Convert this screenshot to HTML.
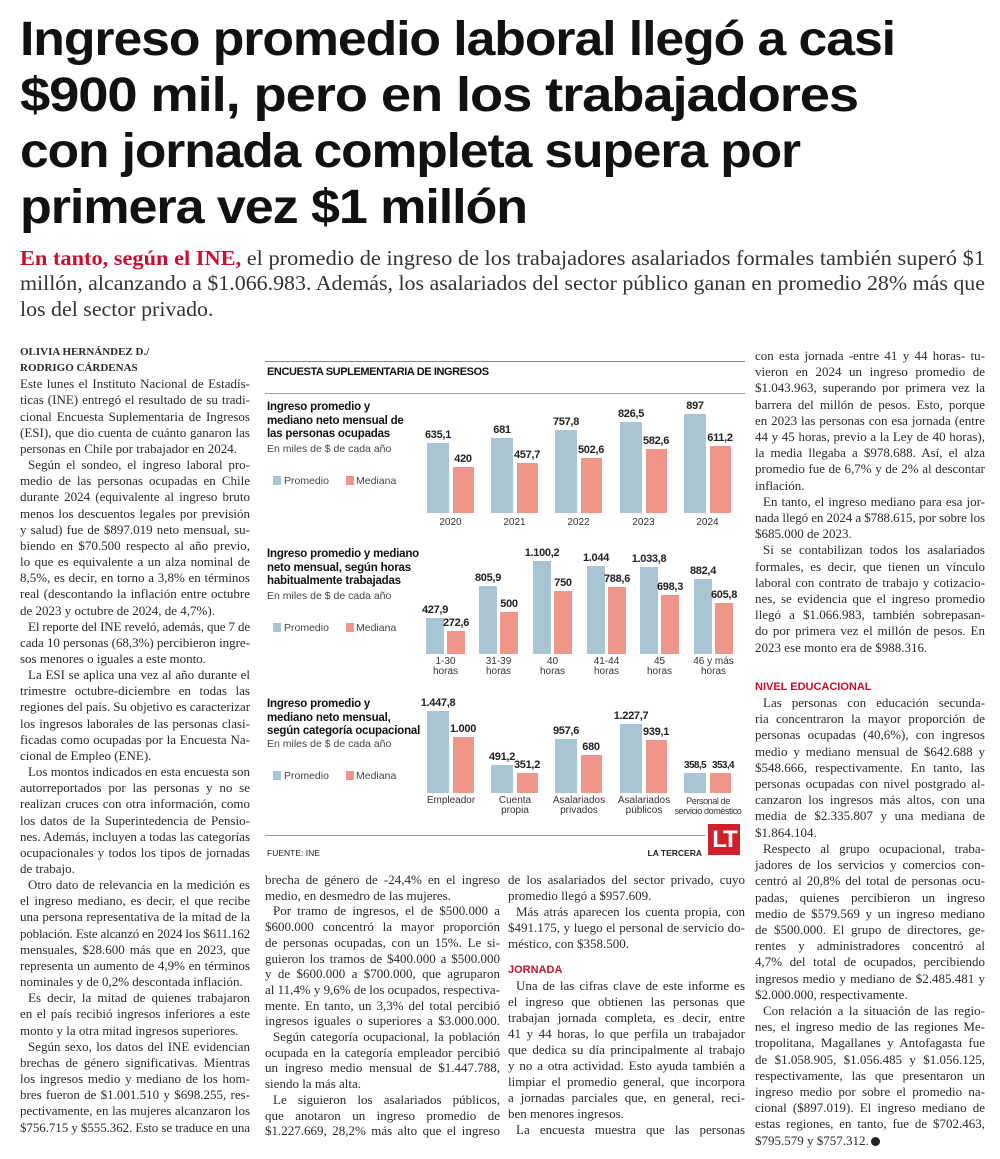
<!DOCTYPE html>
<html><head><meta charset="utf-8">
<style>
*{margin:0;padding:0;box-sizing:border-box}
body{width:1000px;height:1159px;background:#fff;position:relative;overflow:hidden;color:#222}
.hl{position:absolute;left:20px;font-family:"Liberation Sans",sans-serif;font-weight:bold;font-size:48px;line-height:56px;white-space:nowrap;color:#111;letter-spacing:-1px}
.hl span,.sh span{display:inline-block;transform-origin:0 50%}
.sh{position:absolute;left:20px;font-family:"Liberation Serif",serif;font-size:21px;line-height:25px;white-space:nowrap;color:#333}
.sh b{color:#c8102e}
.col{position:absolute;font-family:"Liberation Serif",serif;font-size:13px;color:#2a2a2a}
.col div{white-space:nowrap;overflow:visible}
.col .i{padding-left:8px}
.col .by{font-weight:bold;font-size:11px}
.col .hd{font-family:"Liberation Sans",sans-serif;font-weight:bold;font-size:11px;color:#c8102e}
.c{position:absolute;font-family:"Liberation Sans",sans-serif}
.b{position:absolute;background:#a9c4d2}
.r{position:absolute;background:#ef9589}
.v{position:absolute;font-family:"Liberation Sans",sans-serif;font-size:11px;font-weight:bold;text-align:center;color:#222;height:13px;line-height:13px;letter-spacing:-0.3px}
.t{position:absolute;font-family:"Liberation Sans",sans-serif;font-size:10px;text-align:center;color:#333;line-height:10px}
.ct{position:absolute;left:267px;font-family:"Liberation Sans",sans-serif;font-weight:bold;font-size:11.5px;line-height:13.6px;color:#111;letter-spacing:-0.2px}
.cs{position:absolute;left:267px;font-family:"Liberation Sans",sans-serif;font-size:10.5px;color:#444}
.lg{position:absolute;font-family:"Liberation Sans",sans-serif;font-size:10.5px;color:#444;line-height:10px}
.sq{position:absolute;width:8px;height:9px}
</style></head><body>

<div class="hl" style="top:12px" data-w="875"><span>Ingreso promedio laboral llegó a casi</span></div>
<div class="hl" style="top:68px" data-w="838"><span>$900 mil, pero en los trabajadores</span></div>
<div class="hl" style="top:124px" data-w="780"><span>con jornada completa supera por</span></div>
<div class="hl" style="top:180px" data-w="507"><span>primera vez $1 millón</span></div>

<div class="sh" style="top:246px" data-w="965"><span><b>En tanto, según el INE,</b> el promedio de ingreso de los trabajadores asalariados formales también superó $1</span></div>
<div class="sh" style="top:271px" data-w="965"><span>millón, alcanzando a $1.066.983. Además, los asalariados del sector público ganan en promedio 28% más que</span></div>
<div class="sh" style="top:297px" data-w="190"><span>los del sector privado.</span></div>

<!-- Column 1 -->
<div class="col" style="left:20px;top:344px;width:230px;line-height:16.15px">
<div class="by e">OLIVIA HERNÁNDEZ D./</div>
<div class="by e">RODRIGO CÁRDENAS</div>
<div class="j">Este lunes el Instituto Nacional de Estadís-</div>
<div class="j">ticas (INE) entregó el resultado de su tradi-</div>
<div class="j">cional Encuesta Suplementaria de Ingresos</div>
<div class="j">(ESI), que dio cuenta de cuánto ganaron las</div>
<div class="e">personas en Chile por trabajador en 2024.</div>
<div class="j i">Según el sondeo, el ingreso laboral pro-</div>
<div class="j">medio de las personas ocupadas en Chile</div>
<div class="j">durante 2024 (equivalente al ingreso bruto</div>
<div class="j">menos los descuentos legales por previsión</div>
<div class="j">y salud) fue de $897.019 neto mensual, su-</div>
<div class="j">biendo en $70.500 respecto al año previo,</div>
<div class="j">lo que es equivalente a un alza nominal de</div>
<div class="j">8,5%, es decir, en torno a 3,8% en términos</div>
<div class="j">real (descontando la inflación entre octubre</div>
<div class="e">de 2023 y octubre de 2024, de 4,7%).</div>
<div class="j i">El reporte del INE reveló, además, que 7 de</div>
<div class="j">cada 10 personas (68,3%) percibieron ingre-</div>
<div class="e">sos menores o iguales a este monto.</div>
<div class="j i">La ESI se aplica una vez al año durante el</div>
<div class="j">trimestre octubre-diciembre en todas las</div>
<div class="j">regiones del país. Su objetivo es caracterizar</div>
<div class="j">los ingresos laborales de las personas clasi-</div>
<div class="j">ficadas como ocupadas por la Encuesta Na-</div>
<div class="e">cional de Empleo (ENE).</div>
<div class="j i">Los montos indicados en esta encuesta son</div>
<div class="j">autorreportados por las personas y no se</div>
<div class="j">realizan cruces con otra información, como</div>
<div class="j">los datos de la Superintedencia de Pensio-</div>
<div class="j">nes. Además, incluyen a todas las categorías</div>
<div class="j">ocupacionales y todos los tipos de jornadas</div>
<div class="e">de trabajo.</div>
<div class="j i">Otro dato de relevancia en la medición es</div>
<div class="j">el ingreso mediano, es decir, el que recibe</div>
<div class="j">una persona representativa de la mitad de la</div>
<div class="j">población. Este alcanzó en 2024 los $611.162</div>
<div class="j">mensuales, $28.600 más que en 2023, que</div>
<div class="j">representa un aumento de 4,9% en términos</div>
<div class="e">nominales y de 0,2% descontada inflación.</div>
<div class="j i">Es decir, la mitad de quienes trabajaron</div>
<div class="j">en el país recibió ingresos inferiores a este</div>
<div class="e">monto y la otra mitad ingresos superiores.</div>
<div class="j i">Según sexo, los datos del INE evidencian</div>
<div class="j">brechas de género significativas. Mientras</div>
<div class="j">los ingresos medio y mediano de los hom-</div>
<div class="j">bres fueron de $1.001.510 y $698.255, res-</div>
<div class="j">pectivamente, en las mujeres alcanzaron los</div>
<div class="j">$756.715 y $555.362. Esto se traduce en una</div>
</div>

<!-- Column 2 -->
<div class="col" style="left:265px;top:872px;width:235px;line-height:15.7px">
<div class="j">brecha de género de -24,4% en el ingreso</div>
<div class="e">medio, en desmedro de las mujeres.</div>
<div class="j i">Por tramo de ingresos, el de $500.000 a</div>
<div class="j">$600.000 concentró la mayor proporción</div>
<div class="j">de personas ocupadas, con un 15%. Le si-</div>
<div class="j">guieron los tramos de $400.000 a $500.000</div>
<div class="j">y de $600.000 a $700.000, que agruparon</div>
<div class="j">al 11,4% y 9,6% de los ocupados, respectiva-</div>
<div class="j">mente. En tanto, un 3,3% del total percibió</div>
<div class="j">ingresos iguales o superiores a $3.000.000.</div>
<div class="j i">Según categoría ocupacional, la población</div>
<div class="j">ocupada en la categoría empleador percibió</div>
<div class="j">un ingreso medio mensual de $1.447.788,</div>
<div class="e">siendo la más alta.</div>
<div class="j i">Le siguieron los asalariados públicos,</div>
<div class="j">que anotaron un ingreso promedio de</div>
<div class="j">$1.227.669, 28,2% más alto que el ingreso</div>
</div>

<!-- Column 3 -->
<div class="col" style="left:508px;top:872px;width:237px;line-height:15.9px">
<div class="j">de los asalariados del sector privado, cuyo</div>
<div class="e">promedio llegó a $957.609.</div>
<div class="j i">Más atrás aparecen los cuenta propia, con</div>
<div class="j">$491.175, y luego el personal de servicio do-</div>
<div class="e">méstico, con $358.500.</div>
<div style="height:11px"></div>
<div class="hd">JORNADA</div>
<div class="j i">Una de las cifras clave de este informe es</div>
<div class="j">el ingreso que obtienen las personas que</div>
<div class="j">trabajan jornada completa, es decir, entre</div>
<div class="j">41 y 44 horas, lo que perfila un trabajador</div>
<div class="j">que dedica su día principalmente al trabajo</div>
<div class="j">y no a otra actividad. Esto ayuda también a</div>
<div class="j">limpiar el promedio general, que incorpora</div>
<div class="j">a jornadas parciales que, en general, reci-</div>
<div class="e">ben menores ingresos.</div>
<div class="j i">La encuesta muestra que las personas</div>
</div>

<!-- Column 4 -->
<div class="col" style="left:755px;top:348px;width:230px;line-height:16.2px">
<div class="j">con esta jornada -entre 41 y 44 horas- tu-</div>
<div class="j">vieron en 2024 un ingreso promedio de</div>
<div class="j">$1.043.963, superando por primera vez la</div>
<div class="j">barrera del millón de pesos. Esto, porque</div>
<div class="j">en 2023 las personas con esa jornada (entre</div>
<div class="j">44 y 45 horas, previo a la Ley de 40 horas),</div>
<div class="j">la media llegaba a $978.688. Así, el alza</div>
<div class="j">promedio fue de 6,7% y de 2% al descontar</div>
<div class="e">inflación.</div>
<div class="j i">En tanto, el ingreso mediano para esa jor-</div>
<div class="j">nada llegó en 2024 a $788.615, por sobre los</div>
<div class="e">$685.000 de 2023.</div>
<div class="j i">Si se contabilizan todos los asalariados</div>
<div class="j">formales, es decir, que tienen un vínculo</div>
<div class="j">laboral con contrato de trabajo y cotizacio-</div>
<div class="j">nes, se evidencia que el ingreso promedio</div>
<div class="j">llegó a $1.066.983, también sobrepasan-</div>
<div class="j">do por primera vez el millón de pesos. En</div>
<div class="e">2023 ese monto era de $988.316.</div>
<div style="height:23px"></div>
<div class="hd">NIVEL EDUCACIONAL</div>
<div class="j i">Las personas con educación secunda-</div>
<div class="j">ria concentraron la mayor proporción de</div>
<div class="j">personas ocupadas (40,6%), con ingresos</div>
<div class="j">medio y mediano mensual de $642.688 y</div>
<div class="j">$548.666, respectivamente. En tanto, las</div>
<div class="j">personas ocupadas con nivel postgrado al-</div>
<div class="j">canzaron los ingresos más altos, con una</div>
<div class="j">media de $2.335.807 y una mediana de</div>
<div class="e">$1.864.104.</div>
<div class="j i">Respecto al grupo ocupacional, traba-</div>
<div class="j">jadores de los servicios y comercios con-</div>
<div class="j">centró al 20,8% del total de personas ocu-</div>
<div class="j">padas, quienes percibieron un ingreso</div>
<div class="j">medio de $579.569 y un ingreso mediano</div>
<div class="j">de $500.000. El grupo de directores, ge-</div>
<div class="j">rentes y administradores concentró al</div>
<div class="j">4,7% del total de ocupados, percibiendo</div>
<div class="j">ingresos medio y mediano de $2.485.481 y</div>
<div class="e">$2.000.000, respectivamente.</div>
<div class="j i">Con relación a la situación de las regio-</div>
<div class="j">nes, el ingreso medio de las regiones Me-</div>
<div class="j">tropolitana, Magallanes y Antofagasta fue</div>
<div class="j">de $1.058.905, $1.056.485 y $1.056.125,</div>
<div class="j">respectivamente, las que presentaron un</div>
<div class="j">ingreso medio por sobre el promedio na-</div>
<div class="j">cional ($897.019). El ingreso mediano de</div>
<div class="j">estas regiones, en tanto, fue de $702.463,</div>
<div class="e">$795.579 y $757.312.<span style="display:inline-block;width:9px;height:9px;border-radius:50%;background:#222;margin-left:2px;vertical-align:-1px"></span></div>
</div>

<!-- Chart box -->
<div style="position:absolute;left:265px;top:361px;width:480px;height:1px;background:#888"></div>
<div class="c" style="left:267px;top:366px;font-size:11px;font-weight:bold;letter-spacing:-0.4px;color:#111">ENCUESTA SUPLEMENTARIA DE INGRESOS</div>
<div style="position:absolute;left:265px;top:393px;width:480px;height:1px;background:#999"></div>

<!-- Chart 1 -->
<div class="ct" style="top:401px">Ingreso promedio y<br>mediano neto mensual de<br>las personas ocupadas</div>
<div class="cs" style="top:443px">En miles de $ de cada año</div>
<div class="sq" style="left:273px;top:476px;background:#a9c4d2"></div><div class="lg" style="left:284px;top:476px">Promedio</div>
<div class="sq" style="left:346px;top:476px;background:#ef9589"></div><div class="lg" style="left:356px;top:476px">Mediana</div>

<div class="b" style="left:427px;top:443px;width:22px;height:70px"></div><div class="v" style="left:418px;top:429px;width:40px">635,1</div>
<div class="r" style="left:453px;top:467px;width:21px;height:46px"></div><div class="v" style="left:443px;top:453px;width:40px">420</div>
<div class="b" style="left:491px;top:438px;width:22px;height:75px"></div><div class="v" style="left:482px;top:424px;width:40px">681</div>
<div class="r" style="left:517px;top:463px;width:21px;height:50px"></div><div class="v" style="left:507px;top:449px;width:40px">457,7</div>
<div class="b" style="left:555px;top:430px;width:22px;height:83px"></div><div class="v" style="left:546px;top:416px;width:40px">757,8</div>
<div class="r" style="left:581px;top:458px;width:21px;height:55px"></div><div class="v" style="left:571px;top:444px;width:40px">502,6</div>
<div class="b" style="left:620px;top:422px;width:22px;height:91px"></div><div class="v" style="left:611px;top:408px;width:40px">826,5</div>
<div class="r" style="left:646px;top:449px;width:21px;height:64px"></div><div class="v" style="left:636px;top:435px;width:40px">582,6</div>
<div class="b" style="left:684px;top:414px;width:22px;height:99px"></div><div class="v" style="left:675px;top:400px;width:40px">897</div>
<div class="r" style="left:710px;top:446px;width:21px;height:67px"></div><div class="v" style="left:700px;top:432px;width:40px">611,2</div>
<div class="t" style="left:427px;top:518px;width:47px">2020</div>
<div class="t" style="left:491px;top:518px;width:47px">2021</div>
<div class="t" style="left:555px;top:518px;width:47px">2022</div>
<div class="t" style="left:620px;top:518px;width:47px">2023</div>
<div class="t" style="left:684px;top:518px;width:47px">2024</div>

<!-- Chart 2 -->
<div class="ct" style="top:548px">Ingreso promedio y mediano<br>neto mensual, según horas<br>habitualmente trabajadas</div>
<div class="cs" style="top:590px">En miles de $ de cada año</div>
<div class="sq" style="left:273px;top:623px;background:#a9c4d2"></div><div class="lg" style="left:284px;top:623px">Promedio</div>
<div class="sq" style="left:346px;top:623px;background:#ef9589"></div><div class="lg" style="left:356px;top:623px">Mediana</div>

<div class="b" style="left:426px;top:618px;width:18px;height:36px"></div><div class="v" style="left:415px;top:604px;width:40px">427,9</div>
<div class="r" style="left:447px;top:631px;width:18px;height:23px"></div><div class="v" style="left:436px;top:617px;width:40px">272,6</div>
<div class="b" style="left:479px;top:586px;width:18px;height:68px"></div><div class="v" style="left:468px;top:572px;width:40px">805,9</div>
<div class="r" style="left:500px;top:612px;width:18px;height:42px"></div><div class="v" style="left:489px;top:598px;width:40px">500</div>
<div class="b" style="left:533px;top:561px;width:18px;height:93px"></div><div class="v" style="left:522px;top:547px;width:40px">1.100,2</div>
<div class="r" style="left:554px;top:591px;width:18px;height:63px"></div><div class="v" style="left:543px;top:577px;width:40px">750</div>
<div class="b" style="left:587px;top:566px;width:18px;height:88px"></div><div class="v" style="left:576px;top:552px;width:40px">1.044</div>
<div class="r" style="left:608px;top:587px;width:18px;height:67px"></div><div class="v" style="left:597px;top:573px;width:40px">788,6</div>
<div class="b" style="left:640px;top:567px;width:18px;height:87px"></div><div class="v" style="left:629px;top:553px;width:40px">1.033,8</div>
<div class="r" style="left:661px;top:595px;width:18px;height:59px"></div><div class="v" style="left:650px;top:581px;width:40px">698,3</div>
<div class="b" style="left:694px;top:579px;width:18px;height:75px"></div><div class="v" style="left:683px;top:565px;width:40px">882,4</div>
<div class="r" style="left:715px;top:603px;width:18px;height:51px"></div><div class="v" style="left:704px;top:589px;width:40px">605,8</div>
<div class="t" style="left:416px;top:657px;width:59px">1-30<br>horas</div>
<div class="t" style="left:469px;top:657px;width:59px">31-39<br>horas</div>
<div class="t" style="left:523px;top:657px;width:59px">40<br>horas</div>
<div class="t" style="left:577px;top:657px;width:59px">41-44<br>horas</div>
<div class="t" style="left:630px;top:657px;width:59px">45<br>horas</div>
<div class="t" style="left:684px;top:657px;width:59px">46 y más<br>horas</div>

<!-- Chart 3 -->
<div class="ct" style="top:698px">Ingreso promedio y<br>mediano neto mensual,<br>según categoría ocupacional</div>
<div class="cs" style="top:738px">En miles de $ de cada año</div>
<div class="sq" style="left:273px;top:771px;background:#a9c4d2"></div><div class="lg" style="left:284px;top:771px">Promedio</div>
<div class="sq" style="left:346px;top:771px;background:#ef9589"></div><div class="lg" style="left:356px;top:771px">Mediana</div>

<div class="b" style="left:427px;top:711px;width:22px;height:82px"></div><div class="v" style="left:413px;top:697px;width:50px">1.447,8</div>
<div class="r" style="left:453px;top:737px;width:21px;height:56px"></div><div class="v" style="left:443px;top:723px;width:40px">1.000</div>
<div class="b" style="left:491px;top:765px;width:22px;height:28px"></div><div class="v" style="left:482px;top:751px;width:40px">491,2</div>
<div class="r" style="left:517px;top:773px;width:21px;height:20px"></div><div class="v" style="left:507px;top:759px;width:40px">351,2</div>
<div class="b" style="left:555px;top:739px;width:22px;height:54px"></div><div class="v" style="left:546px;top:725px;width:40px">957,6</div>
<div class="r" style="left:581px;top:755px;width:21px;height:38px"></div><div class="v" style="left:571px;top:741px;width:40px">680</div>
<div class="b" style="left:620px;top:724px;width:22px;height:69px"></div><div class="v" style="left:606px;top:710px;width:50px">1.227,7</div>
<div class="r" style="left:646px;top:740px;width:21px;height:53px"></div><div class="v" style="left:636px;top:726px;width:40px">939,1</div>
<div class="b" style="left:684px;top:773px;width:22px;height:20px"></div><div class="v" style="left:680px;top:759px;width:30px;font-size:10px;letter-spacing:-0.6px">358,5</div>
<div class="r" style="left:710px;top:773px;width:21px;height:20px"></div><div class="v" style="left:708px;top:759px;width:30px;font-size:10px;letter-spacing:-0.6px">353,4</div>
<div class="t" style="left:420px;top:796px;width:62px">Empleador</div>
<div class="t" style="left:484px;top:796px;width:62px">Cuenta<br>propia</div>
<div class="t" style="left:548px;top:796px;width:62px">Asalariados<br>privados</div>
<div class="t" style="left:613px;top:796px;width:62px">Asalariados<br>públicos</div>
<div class="t" style="left:672px;top:796px;width:72px;font-size:9px;letter-spacing:-0.4px;white-space:nowrap">Personal de<br>servicio doméstico</div>

<div style="position:absolute;left:265px;top:835px;width:440px;height:1px;background:#999"></div>
<div class="c" style="left:267px;top:848px;font-size:8.5px;color:#222">FUENTE: INE</div>
<div class="c" style="left:640px;top:848px;width:62px;text-align:right;font-size:8.5px;font-weight:bold;color:#222">LA TERCERA</div>
<div class="c" style="left:708px;top:824px;width:32px;height:31px;background:#d0202a;color:#fff;font-size:24px;font-weight:bold;line-height:31px;text-align:center;letter-spacing:-2px">LT</div>

<script>
(function(){
  function fitScale(el){
    var W=parseFloat(el.getAttribute('data-w'));var s=el.querySelector('span');
    var w=s.getBoundingClientRect().width; if(w>0){s.style.transform='scaleX('+(W/w)+')';}
  }
  document.querySelectorAll('.hl').forEach(fitScale);
  var sh=document.querySelectorAll('.sh');
  var scale=1;
  sh.forEach(function(el,i){
    var s=el.querySelector('span');var w=s.getBoundingClientRect().width;
    if(i<2){scale=parseFloat(el.getAttribute('data-w'))/w;}
    s.style.transform='scaleX('+scale+')';
  });
  document.querySelectorAll('.col').forEach(function(col){
    var W=col.clientWidth;
    col.querySelectorAll('.j,.e').forEach(function(d){
      var avail=W-(d.classList.contains('i')?8:0);
      var txt=d.innerHTML;
      d.innerHTML='<span style="white-space:nowrap">'+txt+'</span>';
      var sp=d.firstChild;var w=sp.getBoundingClientRect().width;
      var n=d.textContent.length;
      if(w>avail){
        var ls=(avail-w)/n; sp.style.letterSpacing=ls+'px';
        w=sp.getBoundingClientRect().width;
      }
      if(d.classList.contains('j')){
        var spaces=(d.textContent.match(/ /g)||[]).length;
        if(spaces>0&&w<avail){sp.style.wordSpacing=((avail-w)/spaces)+'px';}
      }
    });
  });
})();
</script>
</body></html>
